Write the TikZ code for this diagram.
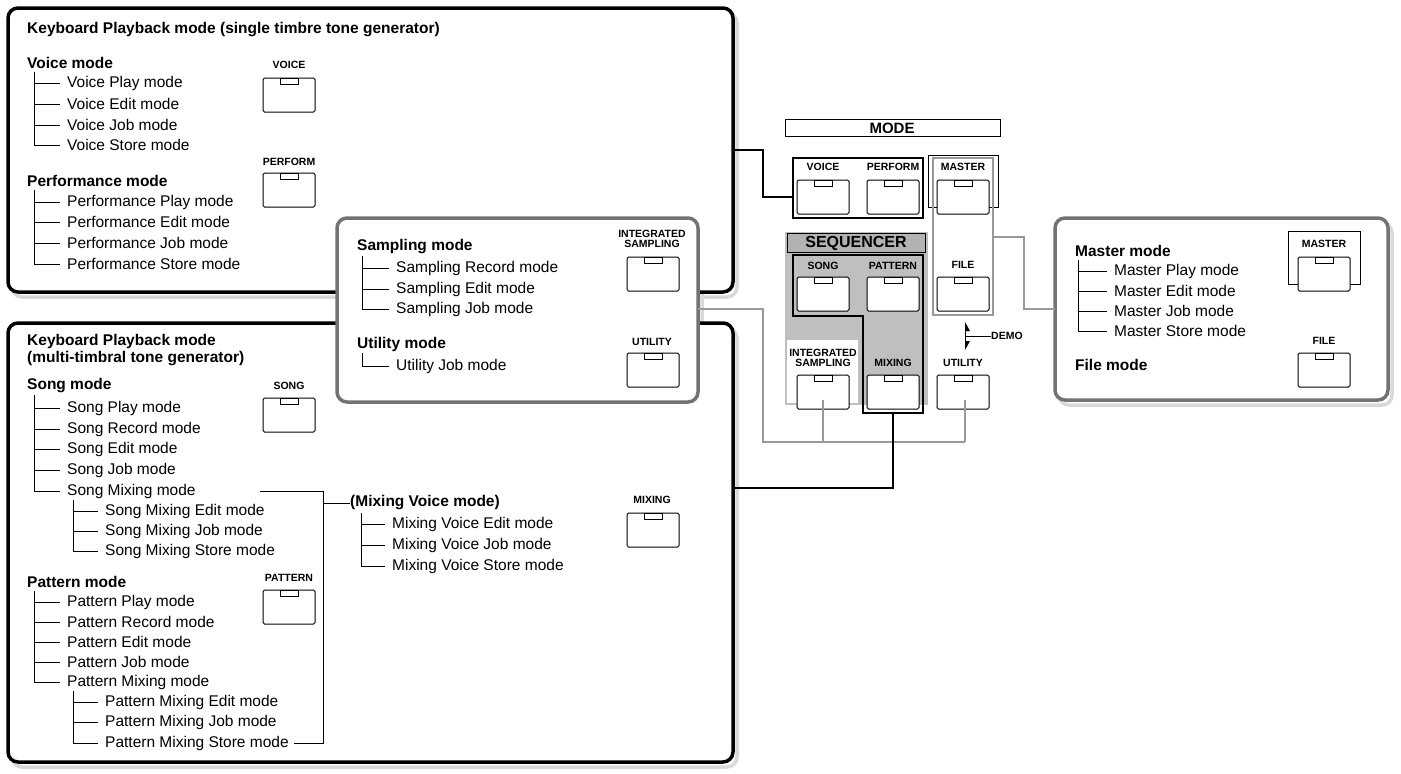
\documentclass[tikz,border=0pt]{standalone}
\usepackage{fontspec}
\setmainfont{Liberation Sans}
\usetikzlibrary{positioning}
\tikzset{%
  item/.style    = {anchor=west, inner sep=0pt, font=\fontsize{15.5}{16}\selectfont},%
  head/.style    = {item, font=\fontsize{15.5}{16}\selectfont\bfseries},%
  key/.style     = {inner sep=0pt, align=center, font=\fontsize{10.5}{11}\selectfont\bfseries},%
  branch/.style  = {line width=0.8pt},%
  panel/.style   = {line width=3.5pt, rounded corners=10pt, fill=white},%
  shadow/.style  = {line width=3.5pt, rounded corners=10pt, draw=black!15},%
  link/.style    = {line width=2pt},%
  glink/.style   = {line width=2pt, draw=black!40}%
}
% button: name, left x, top y
\newcommand\btn[3]{%
  \draw[line width=1pt, rounded corners=1.5pt, fill=white] (#2,#3) rectangle ++(52,34);
  \draw[line width=1pt] (#2+17,#3) rectangle ++(18,6);
  \coordinate (#1) at (#2+26,#3+34);}
% tree: tree x, top y, text x, list of y/text
\newcommand\modetree[4]{%
  \foreach \y/\t [count=\i] in {#4} {%
    \draw[branch] (#1,\y) -- (#3-7,\y);
    \node[item] (t\i) at (#3,\y) {\t};
    \xdef\lasty{\y}}
  \draw[branch] (#1,#2) -- (#1,\lasty);}
\begin{document}
\begin{tikzpicture}[x=1pt,y=-1pt]
\useasboundingbox (0,0) rectangle (1401,774);
% panel shadows
\draw[shadow] (12,13) rectangle (737,297);
\draw[shadow] (12,328) rectangle (737,767);
\draw[shadow] (341,223) rectangle (702,407);
\draw[shadow] (1059,223) rectangle (1392,405);
% single timbre panel
\draw[panel] (8,8) rectangle (733,292);
\node[head] (single) at (27,30) {Keyboard Playback mode (single timbre tone generator)};
\node[head] (voice) at (27,63) {Voice mode};
\modetree{34}{72}{67}{83/Voice Play mode, 104/Voice Edit mode, 125/Voice Job mode, 145/Voice Store mode}
\node[head] (perf) at (27,181) {Performance mode};
\modetree{34}{190}{67}{202/Performance Play mode, 222/Performance Edit mode, 243/Performance Job mode, 264/Performance Store mode}
\node[key] (kvoice) at (289,65) {VOICE};
\btn{bvoice}{263}{78}
\node[key] (kperf) at (289,162) {PERFORM};
\btn{bperf}{263}{173}
% multi-timbral panel
\draw[panel] (8,323) rectangle (733,762);
\node[head] (multi) at (27,341) {Keyboard Playback mode};
\node[head] (multi2) at (27,359) {(multi-timbral tone generator)};
\node[head] (song) at (27,386) {Song mode};
\modetree{34}{395}{67}{408/Song Play mode, 429/Song Record mode, 449/Song Edit mode, 470/Song Job mode, 491/Song Mixing mode}
\modetree{73}{500}{105}{511/Song Mixing Edit mode, 531/Song Mixing Job mode, 551/Song Mixing Store mode}
\node[head] (pattern) at (27,582) {Pattern mode};
\modetree{34}{591}{67}{602/Pattern Play mode, 622/Pattern Record mode, 642/Pattern Edit mode, 662/Pattern Job mode, 682/Pattern Mixing mode}
\modetree{73}{691}{105}{702/Pattern Mixing Edit mode, 722/Pattern Mixing Job mode, 743/Pattern Mixing Store mode}
\node[head] (mixvoice) at (350,503) {(Mixing Voice mode)};
\modetree{361}{513}{392}{524/Mixing Voice Edit mode, 545/Mixing Voice Job mode, 566/Mixing Voice Store mode}
\draw[branch] (260,491) -- (323,491) -- (323,743) -- (294,743);
\draw[branch] (323,503) -- (mixvoice.west);
\node[key] (ksong) at (289,386) {SONG};
\btn{bsong}{263}{398}
\node[key] (kpattern) at (289,578) {PATTERN};
\btn{bpattern}{263}{590}
\node[key] (kmixing) at (652,500) {MIXING};
\btn{bmixing}{627}{513}
% sampling / utility panel
\draw[panel, draw=black!55] (337,218) rectangle (698,402);
\node[head] (sampling) at (357,247) {Sampling mode};
\modetree{362}{256}{396}{268/Sampling Record mode, 289/Sampling Edit mode, 309/Sampling Job mode}
\node[head] (utility) at (357,344) {Utility mode};
\modetree{362}{353}{396}{366/Utility Job mode}
\node[key] (ksampling) at (652,239) {INTEGRATED\\[-1pt]SAMPLING};
\btn{bsampling}{627}{257}
\node[key] (kutility) at (652,342) {UTILITY};
\btn{butility}{627}{353}
% master / file panel
\draw[panel, draw=black!55] (1055,218) rectangle (1388,400);
\node[head] (master) at (1075,251) {Master mode};
\modetree{1078}{260}{1114}{271/Master Play mode, 291/Master Edit mode, 311/Master Job mode, 331/Master Store mode}
\node[head] (file) at (1075,365) {File mode};
\draw[line width=0.8pt] (1288,231) rectangle (1360,284);
\node[key] (kmaster) at (1324,244) {MASTER};
\btn{bmaster}{1298}{257}
\node[key] (kfile) at (1324,341) {FILE};
\btn{bfile}{1298}{353}
% front panel
\draw[line width=0.8pt] (785,119) rectangle (1000,136);
\node[key, font=\fontsize{15}{16}\selectfont\bfseries] (mode) at (892,128) {MODE};
\fill[black!25] (785,232) rectangle (928,405);
\fill[white] (787,340) rectangle (858,403);
\draw[line width=0.8pt, fill=black!30] (787,233) rectangle (925,252);
\node[key, font=\fontsize{16}{17}\selectfont\bfseries] (seq) at (856,243) {SEQUENCER};
\draw[link] (793,158) rectangle (923,218);
\draw[link] (793,255) -- (923,255) -- (923,413) -- (863,413) -- (863,316) -- (793,316) -- cycle;
\draw[line width=0.8pt] (928,155) rectangle (998,207);
\draw[glink] (933,158) rectangle (993,315);
\node[key] (pvoice) at (823,167) {VOICE};
\btn{pbvoice}{797}{180}
\node[key] (pperf) at (893,167) {PERFORM};
\btn{pbperf}{867}{180}
\node[key] (pmaster) at (963,167) {MASTER};
\btn{pbmaster}{937}{180}
\node[key] (psong) at (823,266) {SONG};
\btn{pbsong}{797}{277}
\node[key] (ppattern) at (893,266) {PATTERN};
\btn{pbpattern}{867}{277}
\node[key] (pfile) at (963,265) {FILE};
\btn{pbfile}{937}{277}
\node[key] (psampling) at (823,358) {INTEGRATED\\[-1pt]SAMPLING};
\btn{pbsampling}{797}{375}
\node[key] (pmixing) at (893,363) {MIXING};
\btn{pbmixing}{867}{375}
\node[key] (putility) at (963,363) {UTILITY};
\btn{pbutility}{937}{375}
\node[key, anchor=west] (demo) at (991,336) {DEMO};
\draw[line width=1pt] (965,325) -- (965,347) (965,336) -- (demo.west);
\fill (965,322) -- (970,331) -- (965,331) -- cycle;
\fill (965,350) -- (970,341) -- (965,341) -- cycle;
% connectors
\draw[link] (733,150) -- (763,150) -- (763,197) -- (793,197);
\coordinate (gjoin) at (763,442);
\draw[glink] (698,309) -- (763,309) -- (gjoin) -- (965,442);
\draw[glink] (823,442) -- (823,400);
\draw[glink] (965,442) -- (965,400);
\draw[link] (pbmixing) ++(0,4) -- (893,488) -- (733,488);
\draw[glink] (993,237) -- (1024,237) -- (1024,309) -- (1055,309);
\end{tikzpicture}
\end{document}
